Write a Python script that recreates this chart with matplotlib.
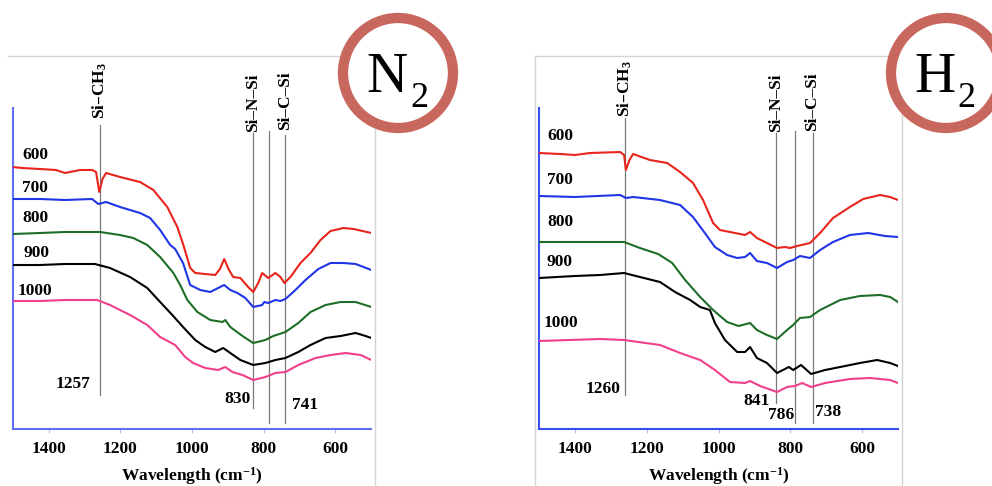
import matplotlib
matplotlib.use('Agg')
import matplotlib.pyplot as plt
from matplotlib.patches import Ellipse
from matplotlib.lines import Line2D

plt.rcParams['font.family'] = ['Liberation Serif', 'DejaVu Serif']
plt.rcParams['mathtext.default'] = 'regular'

# ---------------- data ----------------
temps = ['600', '700', '800', '900', '1000']
colors = ['#e8241c', '#1f35e6', '#1e6e28', '#000000', '#f0408c']
xticks = [1400, 1200, 1000, 800, 600]

# N2 panel (wavenumber cm-1, transmittance a.u.)
n2_600_wn = [1500,1475,1424,1380,1355,1313,1279,1268,1259,1250,1240,1201,1145,1108,1069,1041,1025,1005,991,963,935,922,910,898,885,865,843,829,815,804,787,767,753,742,725,697,669,641,613,577,549,499]
n2_600_y = [262,261,260,259,256,259,259,257,237,250,256,252,247,239,222,202,185,161,156,155,154,160,170,160,152,151,142,137,146,156,151,156,152,146,152,166,176,189,198,201,200,196]
n2_700_wn = [1500,1424,1355,1279,1262,1240,1201,1145,1117,1089,1061,1047,1025,1005,977,949,927,910,893,873,851,829,804,798,787,767,753,739,711,683,647,613,577,543,499]
n2_700_y = [230,230,229,230,225,227,222,216,211,199,184,180,166,144,139,137,141,144,139,136,131,122,124,127,126,129,128,130,139,149,160,166,166,165,159]
n2_800_wn = [1500,1424,1355,1257,1201,1164,1125,1089,1052,1033,1013,985,949,915,907,893,859,829,795,773,739,703,669,627,585,543,499]
n2_800_y = [195,196,197,197,194,191,184,172,156,144,129,117,109,107,109,102,93,86,89,93,97,106,117,124,127,127,122]
n2_900_wn = [1500,1424,1355,1271,1229,1173,1125,1089,1055,1025,991,963,935,913,893,865,829,795,767,739,703,669,627,585,543,515,499]
n2_900_y = [164,164,165,165,161,152,141,127,114,102,89,82,77,81,76,69,64,66,69,71,77,84,91,93,96,93,91]
n2_1000_wn = [1500,1424,1355,1265,1229,1173,1125,1089,1047,1019,997,963,927,907,887,859,829,795,767,739,703,655,613,571,529,499]
n2_1000_y = [128,128,129,129,124,114,104,92,84,72,66,61,59,62,57,54,49,52,56,57,64,71,74,76,74,69]

# H2 panel
h2_600_wn = [1500,1441,1400,1358,1274,1263,1258,1248,1238,1191,1143,1107,1071,1043,1015,996,954,926,912,893,865,837,815,801,781,745,717,681,634,597,550,522,500]
h2_600_y = [276,275,274,276,277,274,259,269,275,269,266,257,246,229,206,199,196,194,197,191,186,181,182,181,183,186,196,211,222,230,234,232,229]
h2_700_wn = [1500,1400,1274,1258,1238,1163,1107,1071,1038,1010,976,948,926,912,893,865,837,809,792,773,745,717,681,634,583,536,500]
h2_700_y = [233,232,234,231,232,229,224,212,196,182,174,171,172,176,168,166,161,167,169,173,171,179,187,194,196,193,192]
h2_800_wn = [1500,1400,1263,1219,1168,1129,1093,1051,1015,976,944,912,893,865,837,809,792,773,745,717,661,606,550,522,500]
h2_800_y = [187,187,187,181,175,166,149,132,119,107,103,106,99,94,90,99,104,111,112,119,129,133,134,132,127]
h2_900_wn = [1500,1400,1330,1263,1219,1163,1121,1079,1051,1024,1010,982,948,926,912,893,865,837,804,792,770,742,703,661,606,558,522,500]
h2_900_y = [151,153,154,156,152,147,137,129,122,119,106,89,77,77,82,71,66,56,62,59,64,55,59,62,66,69,66,63]
h2_1000_wn = [1500,1330,1263,1163,1107,1051,1010,968,926,912,884,837,809,787,767,742,703,634,578,522,500]
h2_1000_y = [88,90,89,84,76,69,59,47,46,48,43,37,42,43,46,42,46,50,51,49,46]

# marker lines: position (cm-1), top and bottom (a.u.)
n2_marks = [1257, 830, 786, 741]
n2_mark_top = [304, 296, 298, 294]
n2_mark_bot = [34, 21, 6, 6]
h2_marks = [1260, 841, 786, 738]
h2_mark_top = [311, 296, 298, 296]
h2_mark_bot = [34, 26, 6, 6]
group_names = ['Si–CH$_3$', 'Si–N–Si', None, 'Si–C–Si']

n2_series = [(n2_600_wn, n2_600_y), (n2_700_wn, n2_700_y), (n2_800_wn, n2_800_y),
             (n2_900_wn, n2_900_y), (n2_1000_wn, n2_1000_y)]
h2_series = [(h2_600_wn, h2_600_y), (h2_700_wn, h2_700_y), (h2_800_wn, h2_800_y),
             (h2_900_wn, h2_900_y), (h2_1000_wn, h2_1000_y)]

# ---------------- layout ----------------
W, H = 992, 486
fig = plt.figure(figsize=(W / 100, H / 100), dpi=100)

def fx(px):
    return px / W

def fy(py):
    return 1 - py / H

FS = 12.5
bold = dict(fontsize=FS, fontweight='bold')

panels = [
    dict(rect=[fx(13), fy(429), fx(371) - fx(13), fy(108) - fy(429)], series=n2_series,
         marks=n2_marks, top=n2_mark_top, bot=n2_mark_bot, spine='#6070ee',
         label_pos=[(1475, 274), (1475, 241), (1475, 211), (1472, 176), (1487, 138)],
         group_y=[310, 297, None, 299],
         nums=[('1257', 1285, 45, 'right'), ('830', 836, 30, 'right'), ('741', 721, 24, 'left')],
         frame=[((8, 56), (375, 56)), ((375, 56), (375, 486))],
         gas='N', circ=(398, 73), gx=(408, 410)),
    dict(rect=[fx(539), fy(429), fx(898) - fx(539), fy(108) - fy(429)], series=h2_series,
         marks=h2_marks, top=h2_mark_top, bot=h2_mark_bot, spine='#3a4ef0',
         label_pos=[(1478, 293), (1478, 249), (1478, 207), (1478, 167), (1487, 106)],
         group_y=[312, 297, None, 298],
         nums=[('1260', 1272, 40, 'right'), ('841', 856, 28, 'right'),
               ('786', 788, 14, 'right'), ('738', 731, 17, 'left')],
         frame=[((535, 56), (902, 56)), ((535, 56), (535, 486)), ((902, 56), (902, 486))],
         gas='H', circ=(946, 73), gx=(955, 957)),
]

for p in panels:
    for (a, b) in p['frame']:
        fig.add_artist(Line2D([fx(a[0]), fx(b[0])], [fy(a[1]), fy(b[1])],
                              transform=fig.transFigure, color='#d4d4d4', lw=1.0, zorder=1))

    ax = fig.add_axes(p['rect'])
    ax.patch.set_alpha(0)
    ax.set_xlim(1500, 500)
    ax.set_ylim(0, 321)
    for s in ['top', 'right']:
        ax.spines[s].set_visible(False)
    for s in ['left', 'bottom']:
        ax.spines[s].set_color(p['spine'])
        ax.spines[s].set_linewidth(1.5)
    ax.set_yticks([])
    ax.set_xticks(xticks)
    ax.set_xticklabels([str(t) for t in xticks], fontweight='bold', fontsize=FS)
    ax.tick_params(axis='x', length=3, width=0.8, color='#b8c0f8', pad=5.5)
    ax.set_xlabel('Wavelength (cm$^{-1}$)', fontweight='bold', fontsize=FS, labelpad=6)

    for (wn, yv), c, t, (lx, ly) in zip(p['series'], colors, temps, p['label_pos']):
        ax.plot(wn, yv, color=c, lw=1.5, zorder=3, solid_joinstyle='round')
        ax.text(lx, ly, t, ha='left', va='center', **bold)

    for m, tp, bt, g, gy in zip(p['marks'], p['top'], p['bot'], group_names, p['group_y']):
        ax.plot([m, m], [bt, tp], color='#7a7a7a', lw=0.9, zorder=2, clip_on=False)
        if g is not None:
            ax.text(m, gy, g, rotation=90, ha='center', va='bottom', clip_on=False, **bold)

    for s, x, y, ha in p['nums']:
        ax.text(x, y, s, ha=ha, va='center', **bold)

    cx, cy = p['circ']
    fig.add_artist(Ellipse((fx(cx), fy(cy)), width=110 / W, height=110 / H,
                           transform=fig.transFigure, facecolor='white',
                           edgecolor='#c8675e', lw=7.4, zorder=5))
    fig.text(fx(p['gx'][0]), fy(92), p['gas'], ha='right', va='baseline',
             fontsize=41, zorder=6)
    fig.text(fx(p['gx'][1]), fy(107), '2', ha='left', va='baseline',
             fontsize=26, zorder=6)

fig.savefig('out.png', dpi=100)
